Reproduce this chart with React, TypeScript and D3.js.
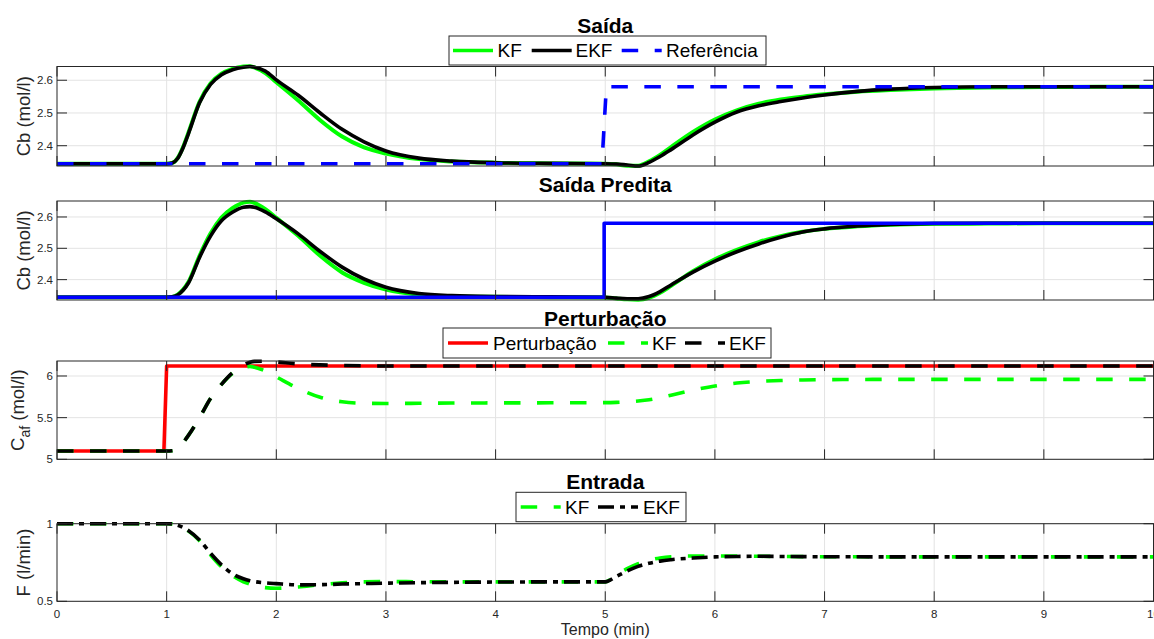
import React from 'react';
import * as d3 from 'd3';

// Simulation time grid (min)
const T = [0, 0.5, 1.0, 1.05, 1.1, 1.15, 1.2, 1.3, 1.4, 1.5, 1.6, 1.7, 1.76, 1.8, 1.9, 2.0, 2.2, 2.4, 2.6, 2.8, 3.0, 3.3, 3.6, 4.0, 4.5, 5.0, 5.1, 5.2, 5.3, 5.4, 5.5, 5.6, 5.8, 6.0, 6.2, 6.4, 6.6, 6.8, 7.0, 7.3, 7.6, 8.0, 8.5, 9.0, 9.5, 10];

// Saída: measured Cb with each estimator
const saidaKF = [2.345, 2.345, 2.345, 2.347, 2.362, 2.396, 2.441, 2.534, 2.59, 2.62, 2.635, 2.642, 2.643, 2.639, 2.622, 2.594, 2.538, 2.478, 2.428, 2.395, 2.376, 2.359, 2.352, 2.348, 2.346, 2.345, 2.343, 2.339, 2.339, 2.352, 2.372, 2.396, 2.442, 2.48, 2.508, 2.528, 2.541, 2.55, 2.557, 2.565, 2.57, 2.575, 2.578, 2.579, 2.58, 2.58];
const saidaEKF = [2.345, 2.345, 2.345, 2.347, 2.361, 2.394, 2.438, 2.531, 2.587, 2.617, 2.632, 2.640, 2.642, 2.640, 2.628, 2.601, 2.554, 2.50, 2.45, 2.412, 2.384, 2.362, 2.353, 2.348, 2.346, 2.345, 2.344, 2.341, 2.338, 2.349, 2.367, 2.388, 2.433, 2.472, 2.503, 2.522, 2.535, 2.546, 2.555, 2.566, 2.573, 2.578, 2.58, 2.58, 2.58, 2.58];
const refT = [0, 4.97, 5.01, 10];
const refV = [2.345, 2.345, 2.58, 2.58];

// Saída Predita
const predKF = [2.344, 2.344, 2.344, 2.345, 2.352, 2.368, 2.393, 2.476, 2.547, 2.598, 2.628, 2.646, 2.649, 2.645, 2.625, 2.597, 2.54, 2.476, 2.423, 2.39, 2.368, 2.352, 2.347, 2.345, 2.344, 2.343, 2.34, 2.337, 2.336, 2.342, 2.358, 2.38, 2.427, 2.465, 2.495, 2.52, 2.539, 2.553, 2.562, 2.57, 2.575, 2.578, 2.579, 2.58, 2.58, 2.58];
const predEKF = [2.344, 2.344, 2.344, 2.345, 2.351, 2.366, 2.39, 2.471, 2.539, 2.588, 2.615, 2.631, 2.633, 2.631, 2.616, 2.594, 2.546, 2.49, 2.44, 2.402, 2.376, 2.356, 2.349, 2.346, 2.345, 2.344, 2.341, 2.339, 2.339, 2.346, 2.362, 2.383, 2.424, 2.459, 2.489, 2.514, 2.535, 2.552, 2.562, 2.571, 2.576, 2.579, 2.58, 2.58, 2.58, 2.58];
const predRefT = [0, 4.99, 4.99, 10];
const predRefV = [2.344, 2.344, 2.58, 2.58];

// Perturbação: feed concentration Caf
const pertT = [0, 0.975, 1.0, 10];
const pertV = [5.1, 5.1, 6.12, 6.12];
const pertKF = [5.1, 5.1, 5.1, 5.103, 5.13, 5.2, 5.29, 5.5, 5.73, 5.9, 6.03, 6.1, 6.115, 6.105, 6.06, 5.99, 5.85, 5.745, 5.69, 5.672, 5.67, 5.672, 5.675, 5.677, 5.678, 5.68, 5.683, 5.69, 5.70, 5.715, 5.74, 5.77, 5.83, 5.88, 5.915, 5.935, 5.946, 5.952, 5.956, 5.958, 5.96, 5.96, 5.96, 5.96, 5.96, 5.96];
const pertEKF = [5.1, 5.1, 5.1, 5.103, 5.13, 5.2, 5.29, 5.5, 5.73, 5.9, 6.04, 6.13, 6.165, 6.175, 6.178, 6.168, 6.145, 6.133, 6.126, 6.122, 6.12, 6.12, 6.12, 6.12, 6.12, 6.12, 6.12, 6.12, 6.12, 6.12, 6.12, 6.12, 6.12, 6.12, 6.12, 6.12, 6.12, 6.12, 6.12, 6.12, 6.12, 6.12, 6.12, 6.12, 6.12, 6.12];

// Entrada: manipulated flow F
const entKF = [1, 1, 1, 0.999, 0.99, 0.974, 0.952, 0.89, 0.8, 0.722, 0.665, 0.626, 0.61, 0.6, 0.588, 0.584, 0.592, 0.607, 0.619, 0.625, 0.627, 0.626, 0.625, 0.625, 0.625, 0.625, 0.67, 0.71, 0.742, 0.765, 0.779, 0.787, 0.792, 0.792, 0.791, 0.79, 0.789, 0.788, 0.787, 0.787, 0.786, 0.786, 0.786, 0.786, 0.786, 0.786];
const entEKF = [1, 1, 1, 0.999, 0.99, 0.975, 0.955, 0.895, 0.81, 0.735, 0.677, 0.645, 0.633, 0.627, 0.619, 0.614, 0.606, 0.607, 0.611, 0.614, 0.617, 0.62, 0.622, 0.624, 0.625, 0.625, 0.66, 0.695, 0.725, 0.745, 0.759, 0.768, 0.779, 0.786, 0.789, 0.79, 0.789, 0.788, 0.787, 0.787, 0.786, 0.786, 0.786, 0.786, 0.786, 0.786];

const xTicks = [0, 1, 2, 3, 4, 5, 6, 7, 8, 9, 10];
const cbTicks = [2.4, 2.5, 2.6];
const cafTicks = [5, 5.5, 6];
const fTicks = [0.5, 1];

const FONT = '"Liberation Sans", Arial, Helvetica, sans-serif';
const AX = '#262626';
const GRID = '#e3e3e3';
const DASH = '16.5,16.5';
const DASHDOT = '16,6,5,6';
const LW = 3.6;

type Series = {
  t: number[];
  v: number[];
  color: string;
  dash?: string;
  width?: number;
  smooth: boolean;
};

type LegendItem = { label: string; color: string; dash?: string };

type Panel = {
  title: string;
  titleY: number;
  top: number;
  bottom: number;
  domain: [number, number];
  ticks: number[];
  ylabel: React.ReactNode;
  ylabelX: number;
  series: Series[];
  legend?: { box: [number, number, number, number]; lineXs: number[]; textXs: number[]; items: LegendItem[] };
  showXLabels?: boolean;
};

const LEFT = 57;
const RIGHT = 1153.5;
const TICK = 10;

const panels: Panel[] = [
  {
    title: 'Saída',
    titleY: 33.3,
    top: 66.5,
    bottom: 166,
    domain: [2.338, 2.642],
    ticks: cbTicks,
    ylabel: 'Cb (mol/l)',
    ylabelX: 30,
    series: [
      { t: T, v: saidaKF, color: '#00ff00', smooth: true, width: 4 },
      { t: T, v: saidaEKF, color: '#000000', smooth: true },
      { t: refT, v: refV, color: '#0000ff', dash: DASH, smooth: false },
    ],
    legend: {
      box: [449, 36, 766, 65],
      lineXs: [453, 531.7, 621.7],
      textXs: [497.5, 575.5, 666],
      items: [
        { label: 'KF', color: '#00ff00' },
        { label: 'EKF', color: '#000000' },
        { label: 'Referência', color: '#0000ff', dash: DASH },
      ],
    },
  },
  {
    title: 'Saída Predita',
    titleY: 191.5,
    top: 201,
    bottom: 300,
    domain: [2.335, 2.651],
    ticks: cbTicks,
    ylabel: 'Cb (mol/l)',
    ylabelX: 30,
    series: [
      { t: T, v: predKF, color: '#00ff00', smooth: true, width: 4 },
      { t: T, v: predEKF, color: '#000000', smooth: true },
      { t: predRefT, v: predRefV, color: '#0000ff', smooth: false },
    ],
  },
  {
    title: 'Perturbação',
    titleY: 326,
    top: 361,
    bottom: 459.3,
    domain: [5, 6.18],
    ticks: cafTicks,
    ylabel: (
      <>
        <tspan>C</tspan>
        <tspan fontSize={14} dy={6}>af</tspan>
        <tspan dy={-6}> (mol/l)</tspan>
      </>
    ),
    ylabelX: 24,
    series: [
      { t: pertT, v: pertV, color: '#ff0000', smooth: false },
      { t: T, v: pertKF, color: '#00ff00', dash: DASH, smooth: true },
      { t: T, v: pertEKF, color: '#000000', dash: DASH, smooth: true },
    ],
    legend: {
      box: [443, 328, 771, 358],
      lineXs: [448, 608, 685],
      textXs: [493, 652, 729],
      items: [
        { label: 'Perturbação', color: '#ff0000' },
        { label: 'KF', color: '#00ff00', dash: DASH },
        { label: 'EKF', color: '#000000', dash: DASH },
      ],
    },
  },
  {
    title: 'Entrada',
    titleY: 489,
    top: 523.7,
    bottom: 601.3,
    domain: [0.5, 1],
    ticks: fTicks,
    ylabel: 'F (l/min)',
    ylabelX: 30,
    series: [
      { t: T, v: entKF, color: '#00ff00', dash: DASH, smooth: true },
      { t: T, v: entEKF, color: '#000000', dash: DASHDOT, smooth: true },
    ],
    legend: {
      box: [516, 492.3, 686, 521.7],
      lineXs: [520.7, 598],
      textXs: [565, 643],
      items: [
        { label: 'KF', color: '#00ff00', dash: DASH },
        { label: 'EKF', color: '#000000', dash: DASHDOT },
      ],
    },
    showXLabels: true,
  },
];

const x = d3.scaleLinear().domain([0, 10]).range([LEFT, RIGHT]);

function PanelView({ p }: { p: Panel }) {
  const y = d3.scaleLinear().domain(p.domain).range([p.bottom, p.top]);
  const cy = (p.top + p.bottom) / 2;
  const fmt = (v: number) => d3.format('~g')(v);
  return (
    <g>
      {/* grid */}
      {xTicks.slice(1, -1).map((t) => (
        <line key={'gx' + t} x1={x(t)} x2={x(t)} y1={p.top} y2={p.bottom} stroke={GRID} strokeWidth={1} />
      ))}
      {p.ticks.map((v) => (
        <line key={'gy' + v} x1={LEFT} x2={RIGHT} y1={y(v)} y2={y(v)} stroke={GRID} strokeWidth={1} />
      ))}
      {/* series */}
      {p.series.map((s, i) => {
        const pts = d3.zip(s.t, s.v) as [number, number][];
        const gen = d3
          .line<[number, number]>()
          .x((d) => x(d[0]))
          .y((d) => y(d[1]))
          .curve(s.smooth ? d3.curveMonotoneX : d3.curveLinear);
        return (
          <path
            key={'s' + i}
            d={gen(pts) || ''}
            fill="none"
            stroke={s.color}
            strokeWidth={s.width ?? LW}
            strokeDasharray={s.dash}
            strokeLinejoin="round"
          />
        );
      })}
      {/* box */}
      <rect x={LEFT} y={p.top} width={RIGHT - LEFT} height={p.bottom - p.top} fill="none" stroke={AX} strokeWidth={1} />
      {/* ticks */}
      {xTicks.map((t) => (
        <g key={'tx' + t}>
          <line x1={x(t)} x2={x(t)} y1={p.bottom} y2={p.bottom - TICK} stroke={AX} strokeWidth={1} />
          <line x1={x(t)} x2={x(t)} y1={p.top} y2={p.top + TICK} stroke={AX} strokeWidth={1} />
        </g>
      ))}
      {p.ticks.map((v) => (
        <g key={'ty' + v}>
          <line x1={LEFT} x2={LEFT + TICK} y1={y(v)} y2={y(v)} stroke={AX} strokeWidth={1} />
          <line x1={RIGHT} x2={RIGHT - TICK} y1={y(v)} y2={y(v)} stroke={AX} strokeWidth={1} />
          <text x={LEFT - 4} y={y(v)} dy="0.35em" textAnchor="end" fontSize={11.5} fill={AX} fontFamily={FONT}>
            {fmt(v)}
          </text>
        </g>
      ))}
      {p.showXLabels &&
        xTicks.map((t) => (
          <text key={'lx' + t} x={x(t)} y={617.7} textAnchor="middle" fontSize={11.5} fill={AX} fontFamily={FONT}>
            {fmt(t)}
          </text>
        ))}
      {/* y label */}
      <text
        transform={`translate(${p.ylabelX},${cy}) rotate(-90)`}
        textAnchor="middle"
        fontSize={18.5}
        fill={AX}
        fontFamily={FONT}
      >
        {p.ylabel}
      </text>
      {/* title */}
      <text x={(LEFT + RIGHT) / 2} y={p.titleY} textAnchor="middle" fontSize={21} fontWeight="bold" fill="#000" fontFamily={FONT}>
        {p.title}
      </text>
      {/* legend */}
      {p.legend && (
        <g>
          <rect
            x={p.legend.box[0]}
            y={p.legend.box[1]}
            width={p.legend.box[2] - p.legend.box[0]}
            height={p.legend.box[3] - p.legend.box[1]}
            fill="#fff"
            stroke={AX}
            strokeWidth={1}
          />
          {p.legend.items.map((it, i) => {
            const ly = (p.legend!.box[1] + p.legend!.box[3]) / 2;
            return (
              <g key={'lg' + i}>
                <line
                  x1={p.legend!.lineXs[i]}
                  x2={p.legend!.lineXs[i] + 40}
                  y1={ly}
                  y2={ly}
                  stroke={it.color}
                  strokeWidth={LW}
                  strokeDasharray={it.dash}
                />
                <text x={p.legend!.textXs[i]} y={ly} dy="0.36em" fontSize={19} fill="#000" fontFamily={FONT}>
                  {it.label}
                </text>
              </g>
            );
          })}
        </g>
      )}
    </g>
  );
}

export default function App() {
  return (
    <svg
      width={1154}
      height={639}
      viewBox="0 0 1154 639"
      style={{ position: 'absolute', left: 0, top: 0, background: '#fff' }}
    >
      <rect x={0} y={0} width={1154} height={639} fill="#fff" />
      {panels.map((p, i) => (
        <PanelView key={i} p={p} />
      ))}
      <text x={x(5)} y={635} textAnchor="middle" fontSize={16} fill={AX} fontFamily={FONT}>
        Tempo (min)
      </text>
    </svg>
  );
}
